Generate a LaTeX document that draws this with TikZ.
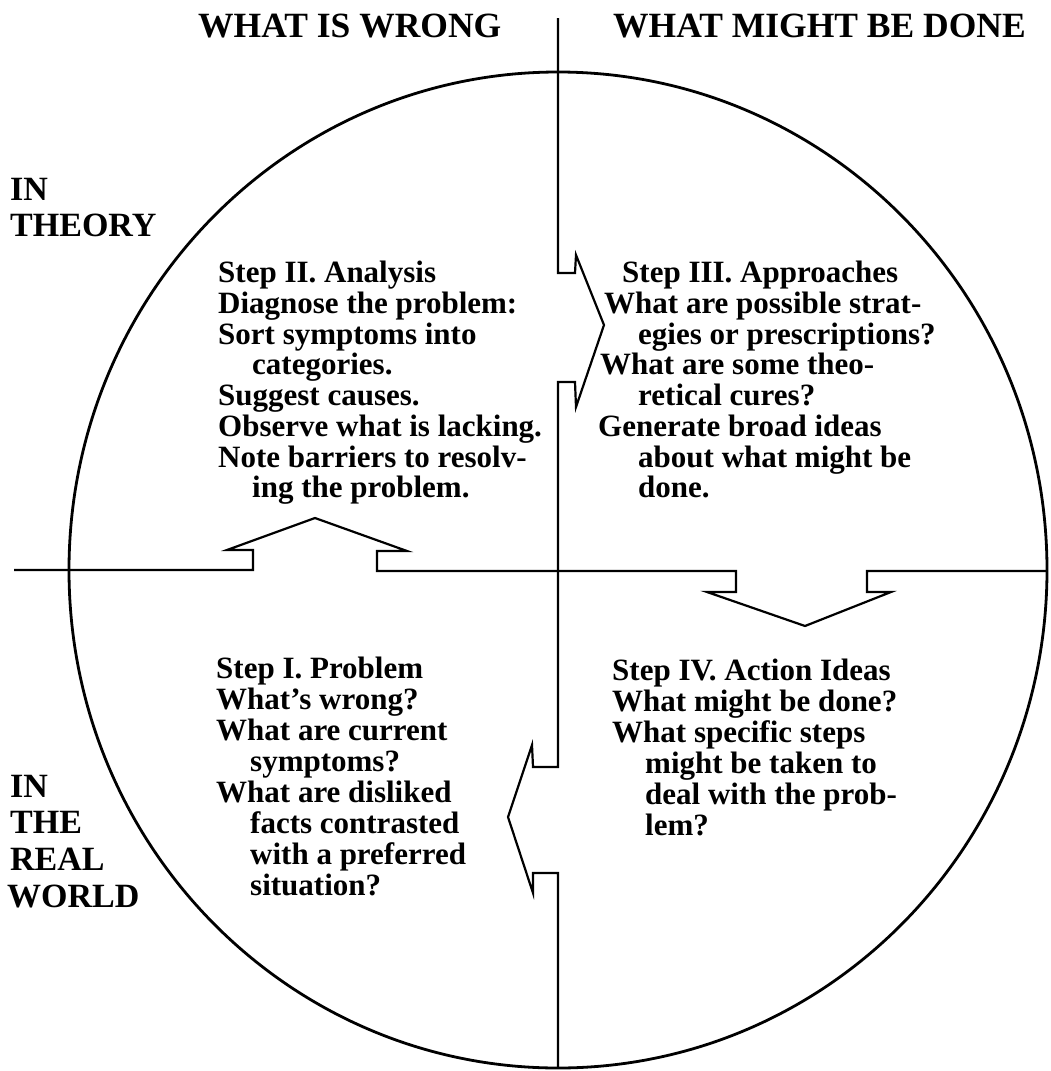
\documentclass[tikz,border=0pt]{standalone}
\usepackage{fontspec}
\setmainfont{Liberation Serif}
\begin{document}
\begin{tikzpicture}[x=1pt,y=-1pt,
  txt/.style={anchor=base west,inner sep=0pt,font=\fontsize{31}{31}\selectfont\bfseries},
  hdr/.style={anchor=base west,inner sep=0pt,font=\fontsize{34}{36}\selectfont\bfseries},
  tophdr/.style={anchor=base west,inner sep=0pt,font=\fontsize{35.5}{36}\selectfont\bfseries},
  frame/.style={line width=2.2pt,line join=miter},
  ring/.style={line width=2.8pt}]
\useasboundingbox (0,0) rectangle (1050,1071);
\coordinate (c) at (558,570);
\draw[ring] (c) ellipse [x radius=489, y radius=498];
% vertical divider with arrows
\draw[frame] (558,18) -- (558,273) -- (575,273) -- (576,255) -- (604,325) -- (576,407) -- (575,382) -- (558,382)
  -- (558,767) -- (533,767) -- (532,745) -- (508,817) -- (533,893) -- (533,873) -- (558,873) -- (558,1068);
% horizontal divider with arrows
\draw[frame] (14,570) -- (253,570) -- (253,550) -- (227,550) -- (315,518) -- (407,551) -- (377,551) -- (377,571)
  -- (736,571) -- (736,592) -- (707,592) -- (805,626) -- (891,592) -- (867,592) -- (867,571) -- (1047,571);
% headers
\node[tophdr] (h1) at (198,37) {WHAT IS WRONG};
\node[tophdr] (h2) at (613,37) {WHAT MIGHT BE DONE};
\node[hdr] (t1) at (10,200) {IN};
\node[hdr] (t2) at (10,236) {THEORY};
\node[hdr] (r1) at (10,797) {IN};
\node[hdr] (r2) at (10,833) {THE};
\node[hdr] (r3) at (10,870) {REAL};
\node[hdr] (r4) at (7,907) {WORLD};
% Step II
\node[txt] (a1) at (218,282) {Step II. Analysis};
\node[txt] (a2) at (218,313) {Diagnose the problem:};
\node[txt] (a3) at (218,344) {Sort symptoms into};
\node[txt] (a4) at (252,374) {categories.};
\node[txt] (a5) at (218,405) {Suggest causes.};
\node[txt] (a6) at (218,436) {Observe what is lacking.};
\node[txt] (a7) at (218,467) {Note barriers to resolv-};
\node[txt] (a8) at (252,497) {ing the problem.};
% Step III
\node[txt] (b1) at (622,282) {Step III. Approaches};
\node[txt] (b2) at (604,313) {What are possible strat-};
\node[txt] (b3) at (638,344) {egies or prescriptions?};
\node[txt] (b4) at (600,374) {What are some theo-};
\node[txt] (b5) at (638,405) {retical cures?};
\node[txt] (b6) at (598,436) {Generate broad ideas};
\node[txt] (b7) at (638,467) {about what might be};
\node[txt] (b8) at (638,497) {done.};
% Step I
\node[txt] (p1) at (216,678) {Step I. Problem};
\node[txt] (p2) at (216,709) {What's wrong?};
\node[txt] (p3) at (216,740) {What are current};
\node[txt] (p4) at (250,771) {symptoms?};
\node[txt] (p5) at (216,802) {What are disliked};
\node[txt] (p6) at (250,833) {facts contrasted};
\node[txt] (p7) at (250,864) {with a preferred};
\node[txt] (p8) at (250,895) {situation?};
% Step IV
\node[txt] (q1) at (612,680) {Step IV. Action Ideas};
\node[txt] (q2) at (612,711) {What might be done?};
\node[txt] (q3) at (612,742) {What specific steps};
\node[txt] (q4) at (645,773) {might be taken to};
\node[txt] (q5) at (645,804) {deal with the prob-};
\node[txt] (q6) at (645,835) {lem?};
\end{tikzpicture}
\end{document}
